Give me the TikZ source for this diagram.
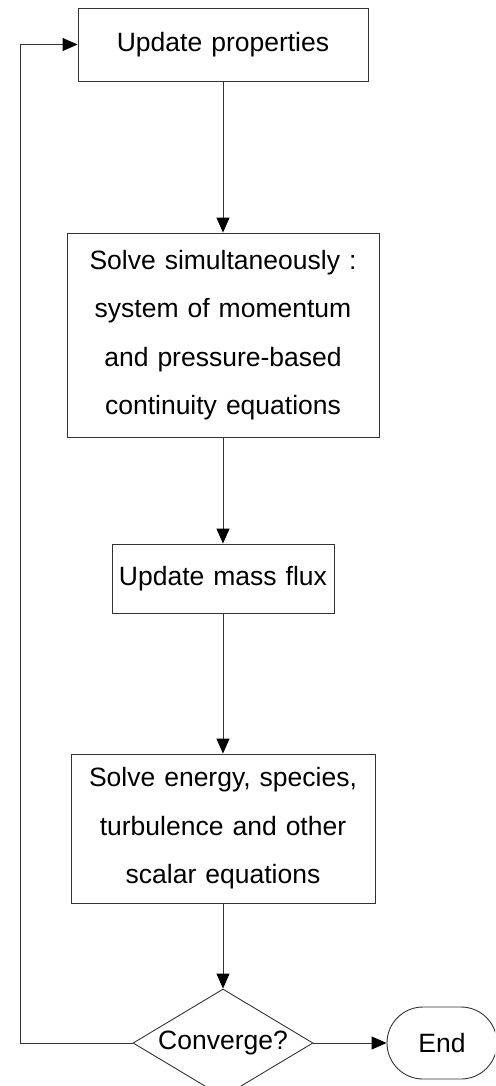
\documentclass[tikz,border=0pt]{standalone}
\usepackage{fontspec}
\setmainfont{Liberation Sans}
\usetikzlibrary{arrows.meta,shapes.geometric}
\newcommand\chartfont{\fontsize{26.5}{48.5}\selectfont\setlength{\spaceskip}{0.34em}}
\begin{document}
\begin{tikzpicture}[x=1pt,y=1pt,
  every node/.style={font=\chartfont},
  box/.style={draw=black!80,line width=0.9pt,rectangle,inner sep=0pt,align=center},
  decision/.style={draw=black!80,line width=0.9pt,diamond,inner sep=0pt,minimum width=180pt,minimum height=108pt,aspect=1.667},
  terminal/.style={draw=black!80,line width=0.9pt,rectangle,rounded corners=36pt,inner sep=0pt,minimum width=110pt,minimum height=72pt},
  arr/.style={draw=black!80,line width=0.9pt,-{Triangle[length=15pt,width=13pt,fill=black,color=black]}}
]
\useasboundingbox (0,0) rectangle (495,-1086);
\clip (0,0) rectangle (495,-1086);
\node[box,minimum width=290pt,minimum height=73pt] (b1) at (223,-44.5) {Update properties};
\node[box,minimum width=312pt,minimum height=204pt] (b2) at (223,-335) {Solve simultaneously :\\system of momentum\\and pressure-based\\continuity equations};
\node[box,minimum width=222pt,minimum height=69pt] (b3) at (223,-578.5) {Update mass flux};
\node[box,minimum width=304pt,minimum height=149pt] (b4) at (223,-828.5) {Solve energy, species,\\turbulence and other\\scalar equations};
\node[decision] (dec) at (223,-1043) {Converge?};
\node[terminal] (end) at (442,-1043) {End};
\coordinate (loopcorner) at (20,-1043);
\draw[arr] (b1) -- (b2);
\draw[arr] (b2) -- (b3);
\draw[arr] (b3) -- (b4);
\draw[arr] (b4) -- (dec);
\draw[arr] (dec.east) -- (end.west);
\draw[arr] (dec.west) -- (loopcorner) |- (b1.west);
\end{tikzpicture}
\end{document}
